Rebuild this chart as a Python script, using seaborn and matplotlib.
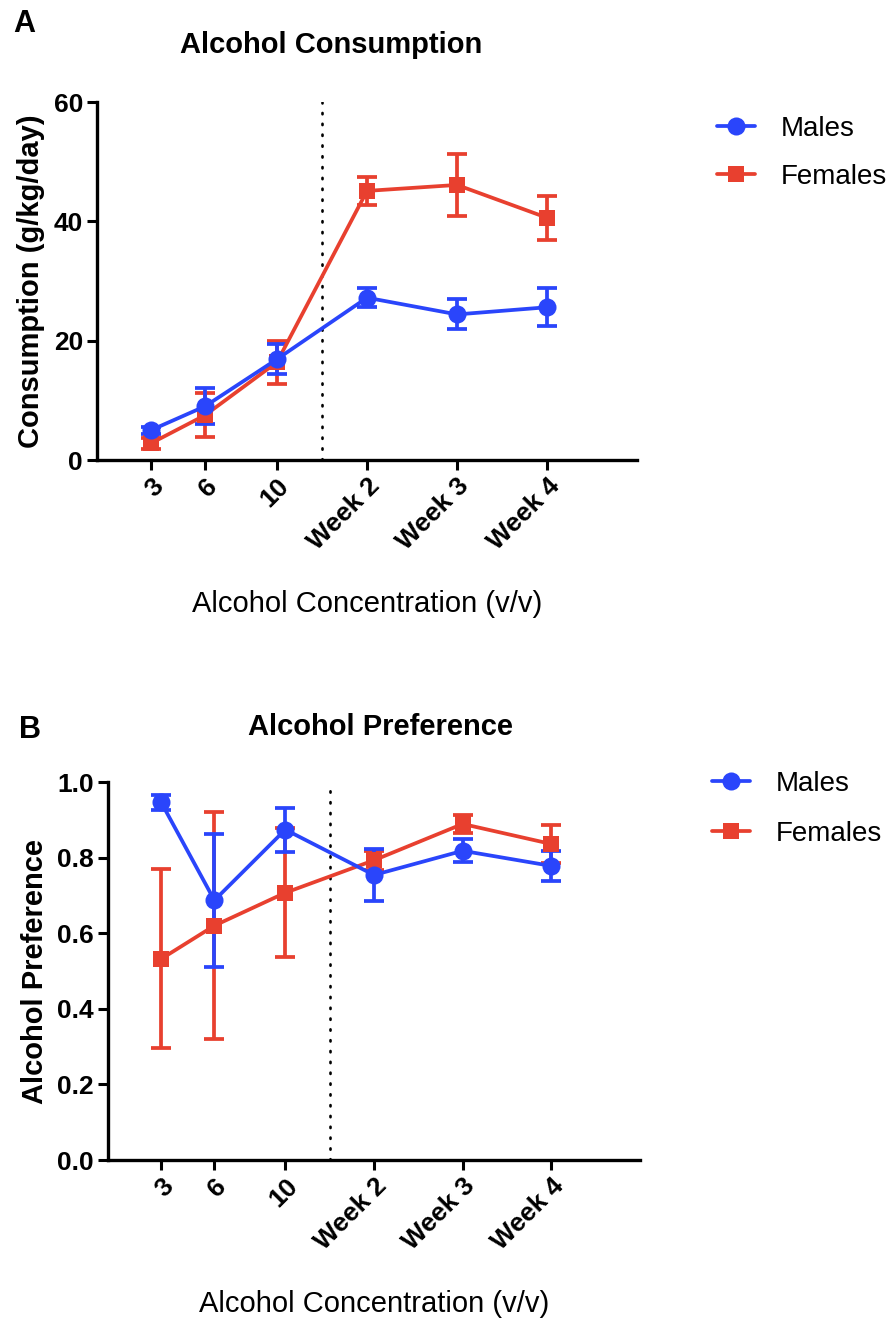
import numpy as np
import pandas as pd
import seaborn as sns
import matplotlib.pyplot as plt
from matplotlib.lines import Line2D

# x positions on a linear concentration-like scale (weeks sit at 15, 20, 25)
x_pos = [3, 6, 10, 15, 20, 25]
x_labels = ["3", "6", "10", "Week 2", "Week 3", "Week 4"]
groups = ["Males", "Females"]

# Panel A - consumption (g/kg/day)
cons_males = [5.0, 9.0, 16.9, 27.2, 24.4, 25.6]
cons_males_err = [0.6, 3.0, 2.5, 1.6, 2.5, 3.2]
cons_females = [2.8, 7.5, 16.4, 45.1, 46.1, 40.6]
cons_females_err = [0.9, 3.7, 3.6, 2.3, 5.2, 3.7]

# Panel B - preference
pref_males = [0.946, 0.687, 0.874, 0.754, 0.818, 0.778]
pref_males_err = [0.02, 0.176, 0.058, 0.07, 0.03, 0.04]
pref_females = [0.532, 0.62, 0.707, 0.793, 0.889, 0.836]
pref_females_err = [0.237, 0.30, 0.17, 0.025, 0.025, 0.05]

colors = {"Males": "#2a45fb", "Females": "#e8402f"}
markers = {"Males": "o", "Females": "s"}
msize = {"Males": 13, "Females": 12}

sns.set_style("ticks")
plt.rcParams['font.family'] = ['Liberation Sans', 'DejaVu Sans']
for k in ["text.color", "axes.labelcolor", "xtick.color", "ytick.color", "axes.edgecolor"]:
    plt.rcParams[k] = "black"


def make_df(m, me, f, fe):
    return pd.DataFrame({
        "x": x_pos * 2,
        "y": m + f,
        "err": me + fe,
        "group": ["Males"] * len(x_pos) + ["Females"] * len(x_pos),
    })


def draw_panel(ax, df, ylim, yticks, yfmt, ylabel):
    # females first so the male series sits on top
    for g in ["Females", "Males"]:
        d = df[df.group == g]
        ax.errorbar(d.x, d.y, yerr=d.err, fmt="none", ecolor=colors[g],
                    elinewidth=2.7, capsize=7, capthick=2.7, clip_on=False, zorder=3)
        sns.lineplot(data=d, x="x", y="y", ax=ax, color=colors[g], marker=markers[g],
                     markersize=msize[g], markeredgewidth=0, linewidth=2.7,
                     clip_on=False, zorder=4, legend=False)
    ax.axvline(12.5, color="black", lw=1.9, ls=(0, (0.5, 3.6)),
               dash_capstyle="round", zorder=2)
    ax.set_xlim(0, 30)
    ax.set_ylim(*ylim)
    ax.set_xticks(x_pos)
    ax.set_xticklabels(x_labels, rotation=45, ha="right", rotation_mode="anchor",
                       fontsize=19, fontweight="bold")
    ax.set_yticks(yticks)
    ax.set_yticklabels([yfmt.format(v) for v in yticks], fontsize=19, fontweight="bold")
    ax.tick_params(length=7, width=2.2, pad=3)
    for s in ["top", "right"]:
        ax.spines[s].set_visible(False)
    for s in ["left", "bottom"]:
        ax.spines[s].set_linewidth(2.4)
    ax.set_xlabel("Alcohol Concentration (v/v)", fontsize=21, labelpad=25)
    ax.set_ylabel(ylabel, fontsize=21, fontweight="bold", labelpad=6)


fig = plt.figure(figsize=(8.9, 13.21), dpi=100)
axA = fig.add_axes([97 / 890, 1 - 460 / 1321, 540 / 890, 358 / 1321])
axB = fig.add_axes([108 / 890, 1 - 1160 / 1321, 532 / 890, 378 / 1321])

dfA = make_df(cons_males, cons_males_err, cons_females, cons_females_err)
dfB = make_df(pref_males, pref_males_err, pref_females, pref_females_err)

draw_panel(axA, dfA, (0, 60), [0, 20, 40, 60], "{:.0f}", "Consumption (g/kg/day)")
draw_panel(axB, dfB, (0, 1.0), [0.0, 0.2, 0.4, 0.6, 0.8, 1.0], "{:.1f}", "Alcohol Preference")

handles = [Line2D([], [], color=colors[g], marker=markers[g], markersize=msize[g],
                  markeredgewidth=0, lw=2.7) for g in groups]
fig.legend(handles, groups, loc="upper left", bbox_to_anchor=(717 / 890, 1 - 116 / 1321),
           frameon=False, fontsize=20, handlelength=1.35, handletextpad=0.95,
           labelspacing=0.8, borderaxespad=0, borderpad=0)
fig.legend(handles, groups, loc="upper left", bbox_to_anchor=(712 / 890, 1 - 771 / 1321),
           frameon=False, fontsize=20, handlelength=1.35, handletextpad=0.95,
           labelspacing=0.85, borderaxespad=0, borderpad=0)

fig.text(331 / 890, 1 - 45 / 1321, "Alcohol Consumption", ha="center", va="center",
         fontsize=21, fontweight="bold")
fig.text(380 / 890, 1 - 727 / 1321, "Alcohol Preference", ha="center", va="center",
         fontsize=21, fontweight="bold")
fig.text(13 / 890, 1 - 24 / 1321, "A", ha="left", va="center", fontsize=22, fontweight="bold")
fig.text(19 / 890, 1 - 730 / 1321, "B", ha="left", va="center", fontsize=22, fontweight="bold")

fig.savefig("out.png", dpi=100)
